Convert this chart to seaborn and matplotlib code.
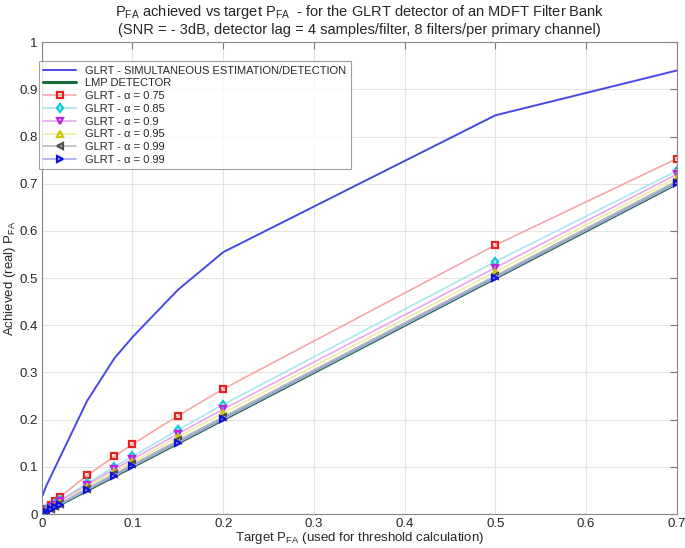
import pandas as pd
import seaborn as sns
import matplotlib.pyplot as plt

# target Pfa values (x axis)
target = [0.001, 0.002, 0.005, 0.01, 0.015, 0.02, 0.05, 0.08, 0.1, 0.15, 0.2, 0.5, 0.7]

# achieved Pfa
glrt_sim = [0.04, 0.045, 0.06, 0.08, 0.10, 0.12, 0.24, 0.33, 0.375, 0.475, 0.555, 0.845, 0.94]
lmp = target
a075 = [0.002, 0.004, 0.01, 0.019, 0.028, 0.036, 0.082, 0.122, 0.148, 0.208, 0.265, 0.57, 0.753]
a085 = [0.0015, 0.003, 0.008, 0.015, 0.022, 0.029, 0.065, 0.10, 0.122, 0.178, 0.232, 0.535, 0.727]
a090 = [0.0013, 0.0027, 0.007, 0.014, 0.02, 0.027, 0.062, 0.095, 0.116, 0.17, 0.222, 0.522, 0.72]
a095 = [0.0012, 0.0024, 0.006, 0.012, 0.018, 0.024, 0.058, 0.09, 0.11, 0.163, 0.214, 0.513, 0.713]
a099a = [0.0011, 0.0022, 0.0055, 0.011, 0.016, 0.022, 0.054, 0.085, 0.105, 0.156, 0.206, 0.505, 0.706]
a099b = [0.001, 0.002, 0.005, 0.0101, 0.0151, 0.0201, 0.051, 0.081, 0.101, 0.151, 0.201, 0.501, 0.701]

alpha_labels = ['0.75', '0.85', '0.9', '0.95', '0.99', '0.99']
alpha_series = [a075, a085, a090, a095, a099a, a099b]
markers = ['s', 'd', 'v', '^', '<', '>']
mark_colors = ['#e82020', '#10c8d8', '#c020e0', '#c8c800', '#505050', '#1010e0']
line_colors = ['#f7a8a8', '#a8e8f0', '#e8a8f0', '#eeeea0', '#b8b8b8', '#a8a8f0']

sns.set_style('white')
plt.rcParams['font.family'] = ['Liberation Sans', 'DejaVu Sans']
plt.rcParams['mathtext.fontset'] = 'custom'
plt.rcParams['mathtext.rm'] = 'Liberation Sans'
plt.rcParams['mathtext.it'] = 'Liberation Sans'

fig = plt.figure(figsize=(6.85, 5.48), dpi=100)
ax = fig.add_axes([0.061, 0.062, 0.927, 0.861])

sns.lineplot(x=target, y=glrt_sim, ax=ax, color='#4848e8', lw=1.4, estimator=None, sort=False,
             label='GLRT - SIMULTANEOUS ESTIMATION/DETECTION')
sns.lineplot(x=target, y=lmp, ax=ax, color='#1a6b3a', lw=2.2, estimator=None, sort=False,
             label='LMP DETECTOR')
for ys, a, m, mc, lc in zip(alpha_series, alpha_labels, markers, mark_colors, line_colors):
    sns.lineplot(x=target, y=ys, ax=ax, color=lc, lw=1.2, marker=m, markersize=4.5,
                 markerfacecolor='none', markeredgecolor=mc, markeredgewidth=1.6,
                 estimator=None, sort=False, label='GLRT - α = ' + a)

ax.set_xlim(0, 0.7)
ax.set_ylim(0, 1)
ax.set_xticks([i / 10 for i in range(8)])
ax.set_yticks([i / 10 for i in range(11)])
ax.set_xticklabels(['0'] + ['%.1f' % (i / 10) for i in range(1, 8)])
ax.set_yticklabels(['0'] + ['%.1f' % (i / 10) for i in range(1, 10)] + ['1'])
ax.grid(True, color='#e4e4e4', lw=0.8)
ax.tick_params(direction='in', length=5, top=True, right=True, labelsize=9.5, color='#777777', pad=3)
for s in ax.spines.values():
    s.set_color('#888888')

ax.set_xlabel(r'Target P$_{\rm FA}$ (used for threshold calculation)', fontsize=9.5, labelpad=0)
ax.set_ylabel(r'Achieved (real) P$_{\rm FA}$', fontsize=9.5, labelpad=1)
ax.set_title(r'P$_{\rm FA}$ achieved vs target P$_{\rm FA}$  - for the GLRT detector of an MDFT Filter Bank'
             '\n(SNR = - 3dB, detector lag = 4 samples/filter, 8 filters/per primary channel)',
             fontsize=10.5, pad=6)

leg = ax.legend(loc='upper left', bbox_to_anchor=(-0.005, 0.96), fontsize=8, frameon=True,
                fancybox=False, edgecolor='#888888', borderaxespad=0, labelspacing=0.25,
                handlelength=3, borderpad=0.4)
leg.get_frame().set_linewidth(0.8)

plt.savefig('out.png', dpi=100)
